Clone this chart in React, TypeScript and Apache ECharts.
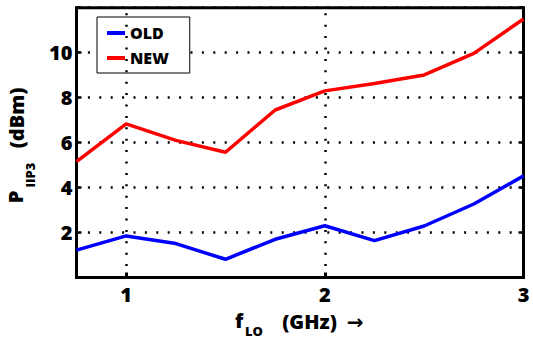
import React, { useEffect, useRef } from "react";
import * as echarts from "echarts";

const xValues = [0.75, 1, 1.25, 1.5, 1.75, 2, 2.25, 2.5, 2.75, 3];
const oldValues = [1.22, 1.85, 1.51, 0.81, 1.7, 2.3, 1.64, 2.29, 3.27, 4.52];
const newValues = [5.15, 6.83, 6.1, 5.57, 7.45, 8.3, 8.63, 9.01, 9.97, 11.5];
const xTickValues = [1, 2, 3];
const xGridValues = [1, 2];
const seriesNames = ["OLD", "NEW"];

const FONT = "'Open Sans', 'DejaVu Sans', sans-serif";
const W = 800;

export default function App() {
  const ref = useRef<HTMLDivElement>(null);
  useEffect(() => {
    if (!ref.current) return;
    const chart = echarts.init(ref.current, undefined, { renderer: "svg" });
    const dotted = { color: "#000", width: 2.5, type: [2, 9.4] as number[] };
    const option: any = {
      animation: false,
      backgroundColor: "#fff",
      grid: {
        left: 76.5,
        right: 9.5,
        top: 7.7,
        bottom: 61.5,
        show: true,
        borderColor: "#000",
        borderWidth: 3,
        backgroundColor: "transparent",
      },
      legend: {
        data: seriesNames,
        left: 97,
        top: 17,
        orient: "vertical",
        backgroundColor: "#fff",
        borderColor: "#000",
        borderWidth: 1,
        padding: [7, 21, 6, 10],
        itemGap: 7,
        itemWidth: 18,
        itemHeight: 4,
        icon: "rect",
        textStyle: { fontFamily: FONT, fontWeight: W, fontSize: 16, color: "#000", lineHeight: 18 },
      },
      xAxis: {
        type: "value",
        min: 0.75,
        max: 3,
        interval: 0.25,
        axisLine: { show: false },
        splitLine: { show: false },
        axisTick: { show: true, inside: true, length: 5, customValues: xTickValues, lineStyle: { color: "#000", width: 3 } },
        axisLabel: {
          customValues: xTickValues,
          margin: 7,
          fontFamily: FONT,
          fontWeight: W,
          fontSize: 20,
          color: "#000",
        },
      },
      yAxis: [
        {
          type: "value",
          min: 0,
          max: 12,
          interval: 2,
          axisLine: { show: false },
          axisTick: { show: true, inside: true, length: 5, lineStyle: { color: "#000", width: 2.5 } },
          splitLine: { show: true, lineStyle: dotted },
          axisLabel: {
            margin: 4,
            fontFamily: FONT,
            fontWeight: W,
            fontSize: 20,
            color: "#000",
            formatter: (v: number) => (v === 0 || v === 12 ? "" : String(v)),
          },
        },
        {
          type: "value",
          position: "right",
          min: 0,
          max: 12,
          interval: 2,
          axisLine: { show: false },
          axisTick: { show: true, inside: true, length: 5, lineStyle: { color: "#000", width: 2.5 } },
          splitLine: { show: false },
          axisLabel: { show: false },
        },
      ],
      series: [
        {
          name: "grid",
          type: "line",
          data: [],
          silent: true,
          z: 1,
          markLine: {
            silent: true,
            symbol: "none",
            label: { show: false },
            lineStyle: dotted,
            data: xGridValues.map((v) => ({ xAxis: v })),
          },
        },
        {
          name: seriesNames[0],
          type: "line",
          data: xValues.map((x, i) => [x, oldValues[i]]),
          showSymbol: false,
          symbol: "none",
          color: "#0000ff",
          lineStyle: { color: "#0000ff", width: 3.5 },
          z: 3,
        },
        {
          name: seriesNames[1],
          type: "line",
          data: xValues.map((x, i) => [x, newValues[i]]),
          showSymbol: false,
          symbol: "none",
          color: "#ff0000",
          lineStyle: { color: "#ff0000", width: 3.5 },
          z: 3,
        },
      ],
      graphic: [
        { type: "text", x: 15.5, y: 197, rotation: Math.PI / 2, style: { text: "P", font: `${W} 20px ${FONT}`, fill: "#000", align: "center", verticalAlign: "middle" } },
        { type: "text", x: 30, y: 175, rotation: Math.PI / 2, style: { text: "IIP3", font: `${W} 13px ${FONT}`, fill: "#000", align: "center", verticalAlign: "middle" } },
        { type: "text", x: 16, y: 118, rotation: Math.PI / 2, style: { text: "(dBm)", font: `${W} 20px ${FONT}`, fill: "#000", align: "center", verticalAlign: "middle" } },
        { type: "text", x: 239, y: 320, style: { text: "f", font: `${W} 20px ${FONT}`, fill: "#000", align: "center", verticalAlign: "middle" } },
        { type: "text", x: 254, y: 331, style: { text: "LO", font: `${W} 13px ${FONT}`, fill: "#000", align: "center", verticalAlign: "middle" } },
        { type: "text", x: 309.5, y: 321, style: { text: "(GHz)", font: `${W} 20px ${FONT}`, fill: "#000", align: "center", verticalAlign: "middle" } },
        { type: "text", x: 355, y: 321, style: { text: "→", font: `${W} 20px ${FONT}`, fill: "#000", align: "center", verticalAlign: "middle" } },
      ],
    };
    chart.setOption(option);
    return () => chart.dispose();
  }, []);
  return <div ref={ref} style={{ width: 533, height: 339, position: "absolute", left: 0, top: 0 }} />;
}
